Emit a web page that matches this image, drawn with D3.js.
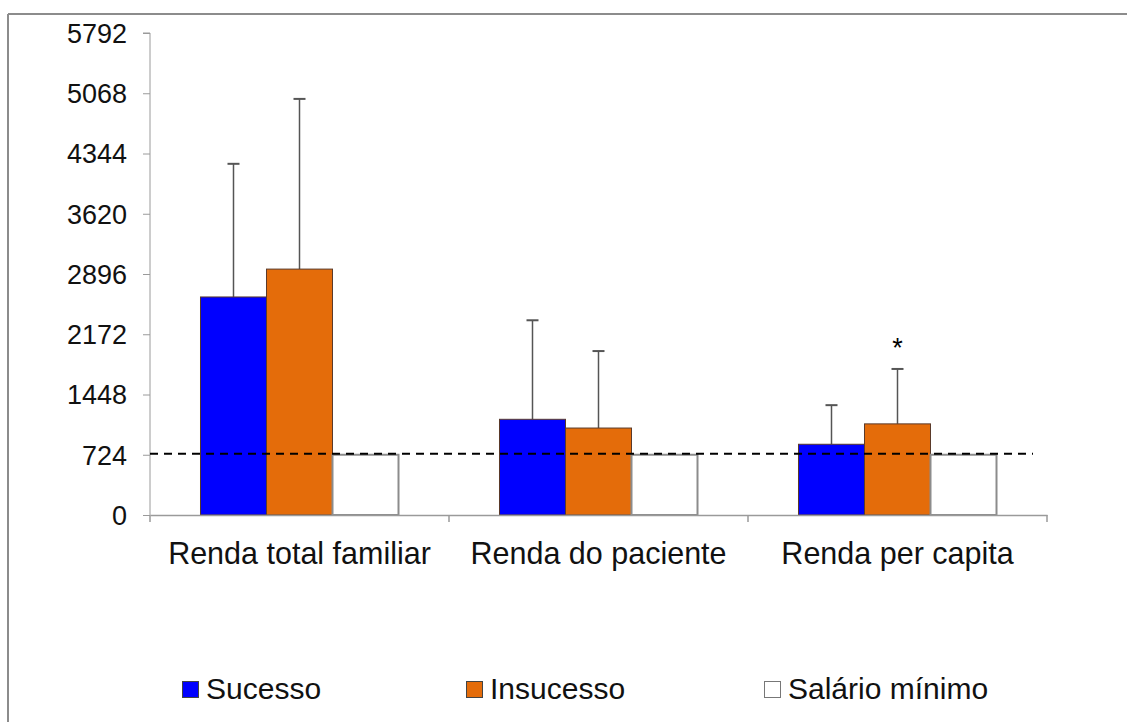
<!DOCTYPE html>
<html>
<head>
<meta charset="utf-8">
<script src="https://cdn.jsdelivr.net/npm/d3@7"></script>
<style>
  body { margin: 0; background: #fff; }
  svg { display: block; font-family: "Liberation Sans", Arial, sans-serif; }
</style>
</head>
<body>
<svg id="chart" width="1127" height="722"></svg>
<script>
const categories = ["Renda total familiar", "Renda do paciente", "Renda per capita"];
const seriesNames = ["Sucesso", "Insucesso", "Salário mínimo"];
const sucesso = [2620, 1150, 850];
const sucessoErr = [1600, 1190, 470];   // upper SD above bar
const insucesso = [2955, 1045, 1095];
const insucessoErr = [2045, 925, 660];
const salarioMinimo = [724, 724, 724];
const yTicks = [0, 724, 1448, 2172, 2896, 3620, 4344, 5068, 5792];
const colors = ["#0000ff", "#e46c0a", "#ffffff"];
const significant = [false, false, true]; // asterisk above Insucesso

const svg = d3.select("#chart");
const margin = { top: 33, left: 150, right: 80, bottom: 207 };
const width = +svg.attr("width");
const height = +svg.attr("height");

// frame (only top and left edges are visible)
svg.append("line").attr("x1", 8).attr("x2", width).attr("y1", 14).attr("y2", 14)
  .attr("stroke", "#8c8c8c").attr("stroke-width", 2);
svg.append("line").attr("x1", 8).attr("x2", 8).attr("y1", 14).attr("y2", height)
  .attr("stroke", "#8c8c8c").attr("stroke-width", 2);

const y = d3.scaleLinear()
  .domain([0, 5792])
  .range([height - margin.bottom, margin.top]);

const x = d3.scaleBand()
  .domain(categories)
  .range([margin.left, width - margin.right])
  .padding(0);

const xInner = d3.scaleBand()
  .domain(seriesNames)
  .range([0, x.bandwidth()])
  .paddingInner(0)
  .paddingOuter(0.765);

// y axis
const yAxis = svg.append("g")
  .attr("transform", `translate(${margin.left},0)`)
  .call(d3.axisLeft(y).tickValues(yTicks).tickSize(7).tickPadding(16).tickFormat(d3.format("d")));
yAxis.selectAll("line, path").attr("stroke", "#9a9a9a");
yAxis.select(".domain").attr("d", `M-7,${y(5792)}H0V${y(0)}`);
yAxis.selectAll("text").style("font-size", "27px").attr("fill", "#111").attr("dy", "0.35em");

// data rows
const rows = categories.map((c, i) => ({
  cat: c,
  vals: [
    { s: seriesNames[0], v: sucesso[i], err: sucessoErr[i], col: colors[0] },
    { s: seriesNames[1], v: insucesso[i], err: insucessoErr[i], col: colors[1] },
    { s: seriesNames[2], v: salarioMinimo[i], err: 0, col: colors[2] }
  ],
  sig: significant[i]
}));

const groups = svg.selectAll(".grp")
  .data(rows)
  .join("g")
  .attr("class", "grp")
  .attr("transform", d => `translate(${x(d.cat)},0)`);

// error bars (behind bars)
groups.selectAll(".err")
  .data(d => d.vals.filter(v => v.err > 0))
  .join("g")
  .attr("class", "err")
  .each(function(d) {
    const g = d3.select(this);
    const cx = xInner(d.s) + xInner.bandwidth() / 2;
    g.append("line").attr("x1", cx).attr("x2", cx)
      .attr("y1", y(d.v)).attr("y2", y(d.v + d.err))
      .attr("stroke", "#555").attr("stroke-width", 1.5);
    g.append("line").attr("x1", cx - 6).attr("x2", cx + 6)
      .attr("y1", y(d.v + d.err)).attr("y2", y(d.v + d.err))
      .attr("stroke", "#555").attr("stroke-width", 2);
  });

groups.selectAll(".bar")
  .data(d => d.vals)
  .join("rect")
  .attr("class", "bar")
  .attr("x", d => xInner(d.s))
  .attr("width", xInner.bandwidth())
  .attr("y", d => y(d.v))
  .attr("height", d => y(0) - y(d.v))
  .attr("fill", d => d.col)
  .attr("stroke", d => d.s === "Salário mínimo" ? "#8c8c8c" : "#5a3a2a")
  .attr("stroke-width", d => d.s === "Salário mínimo" ? 2 : 1);

// significance asterisk
groups.filter(d => d.sig)
  .append("text")
  .attr("x", xInner(seriesNames[1]) + xInner.bandwidth() / 2)
  .attr("y", d => y(d.vals[1].v + d.vals[1].err) - 12)
  .attr("text-anchor", "middle")
  .style("font-size", "27px")
  .text("*");

// x axis
const xAxis = svg.append("g")
  .attr("transform", `translate(0,${y(0)})`)
  .call(d3.axisBottom(x).tickSize(0).tickPadding(27));
xAxis.select(".domain").attr("stroke", "#9a9a9a").attr("stroke-width", 1.5);
xAxis.selectAll("text").style("font-size", "30.5px").attr("fill", "#111");
// category separators
const seps = [margin.left, ...categories.map(c => x(c) + x.bandwidth())];
xAxis.selectAll(".sep").data(seps).join("line").attr("class", "sep")
  .attr("x1", d => d).attr("x2", d => d).attr("y1", 0).attr("y2", 7)
  .attr("stroke", "#9a9a9a").attr("stroke-width", 1.5);

// minimum wage reference line
svg.append("line")
  .attr("x1", margin.left).attr("x2", 1033)
  .attr("y1", y(salarioMinimo[0]) - 1).attr("y2", y(salarioMinimo[0]) - 1)
  .attr("stroke", "#000").attr("stroke-width", 2)
  .attr("stroke-dasharray", "8,6");

// legend
const legendX = [182, 466, 764];
const legend = svg.selectAll(".leg")
  .data(seriesNames)
  .join("g")
  .attr("class", "leg")
  .attr("transform", (d, i) => `translate(${legendX[i]},681)`);
legend.append("rect")
  .attr("x", 0.5).attr("y", 0.5)
  .attr("width", 16).attr("height", 16)
  .attr("fill", (d, i) => colors[i])
  .attr("stroke", (d, i) => i === 2 ? "#777" : "#444")
  .attr("stroke-width", 1);
legend.append("text")
  .attr("x", 24).attr("y", 18)
  .style("font-size", "30px")
  .attr("fill", "#111")
  .text(d => d);
</script>
</body>
</html>
